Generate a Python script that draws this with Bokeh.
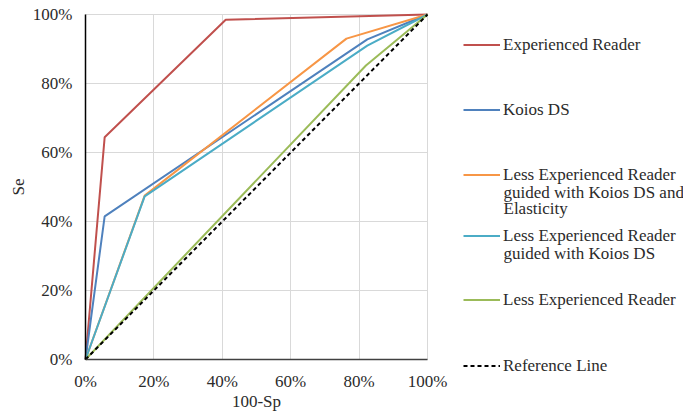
import math
from bokeh.plotting import figure
from bokeh.models import (Range1d, FixedTicker, NumeralTickFormatter, Legend,
                          LegendItem, Label, Grid)
from bokeh.embed import file_html
from bokeh.resources import INLINE

# ROC operating points (100-Sp, Se), in percent
exp_x = [0, 5.6, 41.0, 100]
exp_y = [0, 64.4, 98.5, 100]

koios_x = [0, 5.6, 82.4, 100]
koios_y = [0, 41.5, 92.8, 100]

less_elast_x = [0, 17.3, 76.3, 100]
less_elast_y = [0, 47.5, 93.0, 100]

less_koios_x = [0, 17.3, 82.4, 100]
less_koios_y = [0, 47.3, 91.0, 100]

less_x = [0, 82.0, 100]
less_y = [0, 85.2, 100]

ref_x = [0, 100]
ref_y = [0, 100]

tick_values = [0, 20, 40, 60, 80, 100]

series_names = [
    ["Experienced Reader"],
    ["Koios DS"],
    ["Less Experienced Reader", "guided with Koios DS and", "Elasticity"],
    ["Less Experienced Reader", "guided with Koios DS"],
    ["Less Experienced Reader"],
    ["Reference Line"],
]
series_x = [exp_x, koios_x, less_elast_x, less_koios_x, less_x, ref_x]
series_y = [exp_y, koios_y, less_elast_y, less_koios_y, less_y, ref_y]
series_colors = ["#C0504D", "#4F81BD", "#F79646", "#4BACC6", "#9BBB59", "#000000"]
series_dash = ["solid", "solid", "solid", "solid", "solid", "4 3"]

FONT = "Liberation Serif"
FONT_SIZE = "17px"
TEXT_COLOR = "#2b2b2b"

# Page layout (pixels): the plotting frame fills the whole canvas, the
# axes are pinned at 0 so the chart area sits at x 85..427, y 14..359
# and the legend occupies the space to its right.
W, H = 683, 414
AX_LEFT, AX_RIGHT, AX_TOP, AX_BOTTOM = 85, 427, 14, 359
sx = AX_RIGHT - AX_LEFT
sy = AX_BOTTOM - AX_TOP

p = figure(width=W, height=H, output_backend="svg", toolbar_location=None,
           title_location=None, min_border=0,
           x_range=Range1d(-AX_LEFT / sx, (W - AX_LEFT) / sx),
           y_range=Range1d(-(H - AX_BOTTOM) / sy, 1 + AX_TOP / sy))
p.outline_line_color = None
p.background_fill_color = "white"
p.border_fill_color = "white"

renderers = []
for xs, ys, color, dash in zip(series_x, series_y, series_colors, series_dash):
    r = p.line([v / 100 for v in xs], [v / 100 for v in ys], line_color=color,
               line_width=2, line_dash=dash)
    renderers.append(r)

ticks = [v / 100 for v in tick_values]
for ax in (p.xaxis, p.yaxis):
    ax.fixed_location = 0
    ax.bounds = (0, 1)
    ax.ticker = FixedTicker(ticks=ticks)
    ax.formatter = NumeralTickFormatter(format="0%")
    ax.major_tick_line_color = None
    ax.minor_tick_line_color = None
    ax.major_label_text_font = FONT
    ax.major_label_text_font_size = FONT_SIZE
    ax.major_label_text_color = TEXT_COLOR

p.xaxis.axis_line_color = "#404040"
p.xaxis.axis_line_width = 1.5
p.yaxis.axis_line_color = "#000000"
p.yaxis.axis_line_width = 1.5
p.xaxis.major_label_standoff = 6
p.yaxis.major_label_standoff = 7

# gridlines limited to the chart area
if "cross_bounds" in Grid.properties():
    for g in (p.xgrid, p.ygrid):
        g.grid_line_color = "#D9D9D9"
        g.bounds = (0, 1)
        g.cross_bounds = (0, 1)
else:
    p.grid.visible = False
    p.segment(x0=ticks, y0=[0] * len(ticks), x1=ticks, y1=[1] * len(ticks),
              line_color="#D9D9D9", level="underlay")
    p.segment(x0=[0] * len(ticks), y0=ticks, x1=[1] * len(ticks), y1=ticks,
              line_color="#D9D9D9", level="underlay")

# axis titles
p.add_layout(Label(x=256, y=H - 401, x_units="screen", y_units="screen",
                   text="100-Sp", text_align="center", text_baseline="middle",
                   text_font=FONT, text_font_size=FONT_SIZE, text_color=TEXT_COLOR))
p.add_layout(Label(x=18, y=H - 186.5, x_units="screen", y_units="screen",
                   text="Se", angle=math.pi / 2, text_align="center",
                   text_baseline="middle",
                   text_font=FONT, text_font_size=FONT_SIZE, text_color=TEXT_COLOR))

# Legend: one block per series, sample line beside the first text line,
# further lines continue underneath.
SAMPLE_LEFT = 463
TEXT_LEFT = 503
LINE_PITCH = 16.7
first_line_y = [45, 110, 175, 236, 300, 366]   # from the top of the page
ENTRY_H = 19

for names, r, yc in zip(series_names, renderers, first_line_y):
    leg = Legend(items=[LegendItem(label=names[0], renderers=[r])],
                 location=(SAMPLE_LEFT, H - (yc + ENTRY_H / 2)),
                 padding=0, margin=0, spacing=0,
                 border_line_color=None, background_fill_alpha=0,
                 glyph_width=37, glyph_height=ENTRY_H, label_height=ENTRY_H,
                 label_standoff=3,
                 label_text_font=FONT, label_text_font_size=FONT_SIZE,
                 label_text_color=TEXT_COLOR)
    p.add_layout(leg)
    for k, extra in enumerate(names[1:], start=1):
        p.add_layout(Label(x=TEXT_LEFT, y=H - (yc + k * LINE_PITCH),
                           x_units="screen", y_units="screen", text=extra,
                           text_baseline="middle", text_align="left",
                           text_font=FONT, text_font_size=FONT_SIZE,
                           text_color=TEXT_COLOR))

open("out.html", "w").write(file_html(p, INLINE))
